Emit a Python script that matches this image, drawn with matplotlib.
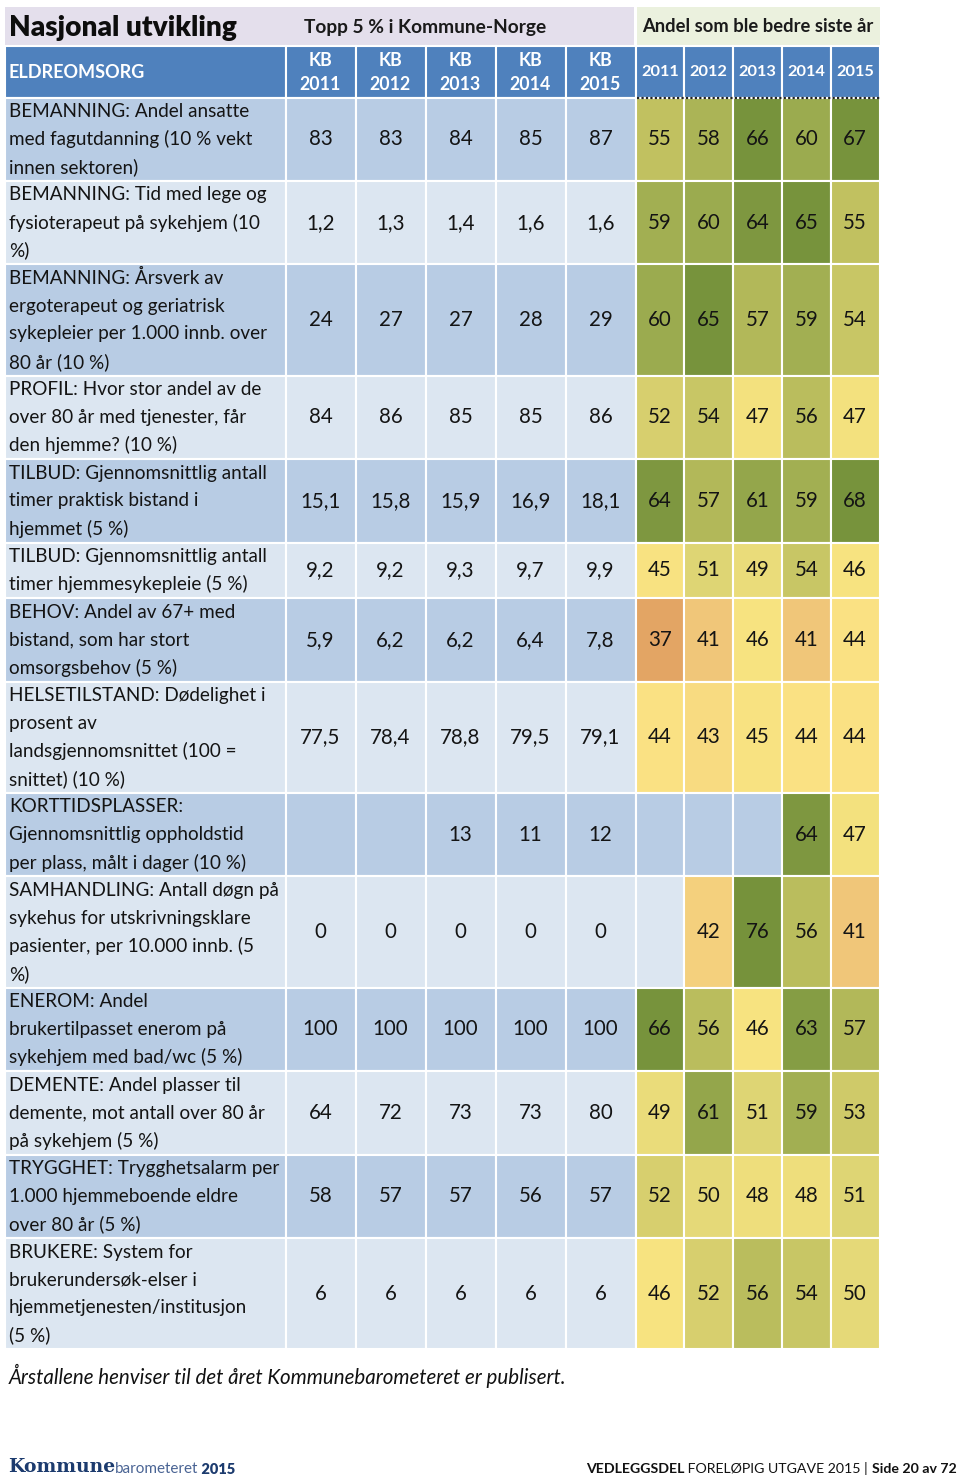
import numpy as np
import matplotlib
matplotlib.use("Agg")
import matplotlib.pyplot as plt
from matplotlib.patches import Rectangle
from matplotlib.colors import LinearSegmentedColormap, Normalize

plt.rcParams['font.family'] = ['Lato', 'DejaVu Sans']

# ---------------- data ----------------
title = "Nasjonal utvikling"
section = "ELDREOMSORG"
group_left = "Topp 5 % i Kommune-Norge"
group_right = "Andel som ble bedre siste år"
years = ["2011", "2012", "2013", "2014", "2015"]
kb_headers = ["KB\n" + y for y in years]

indicators = [
    "BEMANNING: Andel ansatte\nmed fagutdanning (10 % vekt\ninnen sektoren)",
    "BEMANNING: Tid med lege og\nfysioterapeut på sykehjem (10\n%)",
    "BEMANNING: Årsverk av\nergoterapeut og geriatrisk\nsykepleier per 1.000 innb. over\n80 år (10 %)",
    "PROFIL: Hvor stor andel av de\nover 80 år med tjenester, får\nden hjemme? (10 %)",
    "TILBUD: Gjennomsnittlig antall\ntimer praktisk bistand i\nhjemmet (5 %)",
    "TILBUD: Gjennomsnittlig antall\ntimer hjemmesykepleie (5 %)",
    "BEHOV: Andel av 67+ med\nbistand, som har stort\nomsorgsbehov (5 %)",
    "HELSETILSTAND: Dødelighet i\nprosent av\nlandsgjennomsnittet (100 =\nsnittet) (10 %)",
    "KORTTIDSPLASSER:\nGjennomsnittlig oppholdstid\nper plass, målt i dager (10 %)",
    "SAMHANDLING: Antall døgn på\nsykehus for utskrivningsklare\npasienter, per 10.000 innb. (5\n%)",
    "ENEROM: Andel\nbrukertilpasset enerom på\nsykehjem med bad/wc (5 %)",
    "DEMENTE: Andel plasser til\ndemente, mot antall over 80 år\npå sykehjem (5 %)",
    "TRYGGHET: Trygghetsalarm per\n1.000 hjemmeboende eldre\nover 80 år (5 %)",
    "BRUKERE: System for\nbrukerundersøk-elser i\nhjemmetjenesten/institusjon\n(5 %)",
]

nan = np.nan
kb_values = np.array([
    [83, 83, 84, 85, 87],
    [1.2, 1.3, 1.4, 1.6, 1.6],
    [24, 27, 27, 28, 29],
    [84, 86, 85, 85, 86],
    [15.1, 15.8, 15.9, 16.9, 18.1],
    [9.2, 9.2, 9.3, 9.7, 9.9],
    [5.9, 6.2, 6.2, 6.4, 7.8],
    [77.5, 78.4, 78.8, 79.5, 79.1],
    [nan, nan, 13, 11, 12],
    [0, 0, 0, 0, 0],
    [100, 100, 100, 100, 100],
    [64, 72, 73, 73, 80],
    [58, 57, 57, 56, 57],
    [6, 6, 6, 6, 6],
])
kb_decimals = [0, 1, 0, 0, 1, 1, 1, 1, 0, 0, 0, 0, 0, 0]

improved_share = np.array([
    [55, 58, 66, 60, 67],
    [59, 60, 64, 65, 55],
    [60, 65, 57, 59, 54],
    [52, 54, 47, 56, 47],
    [64, 57, 61, 59, 68],
    [45, 51, 49, 54, 46],
    [37, 41, 46, 41, 44],
    [44, 43, 45, 44, 44],
    [nan, nan, nan, 64, 47],
    [nan, 42, 76, 56, 41],
    [66, 56, 46, 63, 57],
    [49, 61, 51, 59, 53],
    [52, 50, 48, 48, 51],
    [46, 52, 56, 54, 50],
])

footnote = "Årstallene henviser til det året Kommunebarometeret er publisert."

# ---------------- styling ----------------
HEADER_BLUE = "#4F81BD"
ROW_DARK = "#B8CCE4"
ROW_LIGHT = "#DCE6F1"
BAND_LEFT = "#E4DFEC"
BAND_RIGHT = "#EBF1DE"
TXT = "#141414"

vmin, vmax = 37, 76
anchors = [(37, "#E3A564"), (41, "#F0C679"), (43.5, "#FAE183"), (46, "#F7E380"),
           (50, "#E5D978"), (55, "#C1C160"), (60, "#9BAB4F"), (65, "#77933C"), (76, "#76923B")]
cmap = LinearSegmentedColormap.from_list(
    "kb", [((v - vmin) / (vmax - vmin), c) for v, c in anchors])
norm = Normalize(vmin, vmax)

fig = plt.figure(figsize=(9.6, 14.81), dpi=100)
ax = fig.add_axes([0, 0, 1, 1])
ax.set_xlim(0, 960)
ax.set_ylim(1481, 0)
ax.axis("off")

LBL_X0, LBL_X1 = 5, 285.5
kb_edges = np.linspace(285.5, 635.5, 6)
r_edges = np.linspace(635.5, 879.5, 6)
LINE = 27.82
HEAD_Y0, HEAD_Y1 = 45.5, 97.5
BAND_Y0 = 7

EW = 1.5  # white separator width (pt)
LBL_FS = 13.6
VAL_FS = 14.8


def cell(x0, x1, y0, y1, color, ec="white"):
    ax.add_patch(Rectangle((x0, y0), x1 - x0, y1 - y0, facecolor=color,
                           edgecolor=ec, linewidth=EW))


def fmt(v, d):
    if np.isnan(v):
        return ""
    return f"{v:.{d}f}".replace(".", ",")


# title band
ax.add_patch(Rectangle((LBL_X0, BAND_Y0), kb_edges[-1] - LBL_X0 - 1.5, HEAD_Y0 - BAND_Y0,
                       facecolor=BAND_LEFT, edgecolor="none"))
ax.add_patch(Rectangle((r_edges[0] + 1, BAND_Y0), r_edges[-1] - r_edges[0] - 1, HEAD_Y0 - BAND_Y0,
                       facecolor=BAND_RIGHT, edgecolor="none"))
ax.text(9, 28, title, fontsize=20.2, fontweight="heavy", va="center", ha="left", color="#0d0d0d")
ax.text(425, 27, group_left, fontsize=13.8, fontweight="bold", va="center", ha="center", color="#1a1a1a")
ax.text((r_edges[0] + r_edges[-1]) / 2, 27, group_right, fontsize=13.2, fontweight="bold",
        va="center", ha="center", color="#1a1a1a")

# header row
cell(LBL_X0, LBL_X1, HEAD_Y0, HEAD_Y1, HEADER_BLUE)
ax.text(9, 72, section, fontsize=13, fontweight="bold", color="white", va="center", ha="left")
for j, h in enumerate(kb_headers):
    cell(kb_edges[j], kb_edges[j + 1], HEAD_Y0, HEAD_Y1, HEADER_BLUE)
    xc = (kb_edges[j] + kb_edges[j + 1]) / 2
    top, bot = h.split("\n")
    ax.text(xc, 60, top, fontsize=12.8, fontweight="bold", color="white", va="center", ha="center")
    ax.text(xc, 84, bot, fontsize=12.8, fontweight="bold", color="white", va="center", ha="center")
for j, y in enumerate(years):
    cell(r_edges[j], r_edges[j + 1], HEAD_Y0, HEAD_Y1, HEADER_BLUE)
    xc = (r_edges[j] + r_edges[j + 1]) / 2
    ax.text(xc, 72, y, fontsize=11.8, fontweight="bold", color="white", va="center", ha="center")

# body rows
y = HEAD_Y1
for i, lab in enumerate(indicators):
    lines = lab.split("\n")
    h = LINE * len(lines)
    y0, y1 = y, y + h
    yc = (y0 + y1) / 2
    bg = ROW_DARK if i % 2 == 0 else ROW_LIGHT
    cell(LBL_X0, LBL_X1, y0, y1, bg)
    for k, ln in enumerate(lines):
        ly = yc + (k - (len(lines) - 1) / 2) * LINE
        ax.text(9, ly, ln, fontsize=LBL_FS, va="center", ha="left", color=TXT)
    for j in range(5):
        cell(kb_edges[j], kb_edges[j + 1], y0, y1, bg)
        ax.text((kb_edges[j] + kb_edges[j + 1]) / 2, yc, fmt(kb_values[i, j], kb_decimals[i]),
                fontsize=VAL_FS, va="center", ha="center", color=TXT)
    for j in range(5):
        v = improved_share[i, j]
        col = bg if np.isnan(v) else cmap(norm(v))
        cell(r_edges[j], r_edges[j + 1], y0, y1, col)
        ax.text((r_edges[j] + r_edges[j + 1]) / 2, yc, fmt(v, 0),
                fontsize=VAL_FS, va="center", ha="center", color=TXT)
    y = y1

# dotted line under right header
ax.plot([r_edges[0] + 1, r_edges[-1]], [HEAD_Y1, HEAD_Y1], color="#222222",
        linestyle=(0, (1, 1)), linewidth=1.6)

# footnote
ax.text(9, 1376, footnote, fontsize=14.8, fontstyle="italic",
        va="center", ha="left", color="#111111")

# bottom logo
t1 = ax.text(8, 1467, "Kommune", fontsize=13.5, fontweight="bold", family="DejaVu Serif",
             color="#1C3B6E", va="center", ha="left")
t2 = ax.annotate("barometeret", xy=(1, 0), xycoords=t1, va="bottom", ha="left",
                 fontsize=11, color="#4A6494")
t3 = ax.annotate(" 2015", xy=(1, 0), xycoords=t2, va="bottom", ha="left",
                 fontsize=10.5, fontweight="heavy", color="#1C3B6E")

# bottom page info
p1 = ax.text(586, 1469, "VEDLEGGSDEL", fontsize=10.2, fontweight="bold", color="#111111",
             va="center", ha="left")
p2 = ax.annotate(" FORELØPIG UTGAVE 2015 | ", xy=(1, 0), xycoords=p1, va="bottom", ha="left",
                 fontsize=10.2, color="#111111")
p3 = ax.annotate("Side 20 av 72", xy=(1, 0), xycoords=p2, va="bottom", ha="left",
                 fontsize=10.2, fontweight="bold", color="#111111")

fig.savefig("out.png", dpi=100)
